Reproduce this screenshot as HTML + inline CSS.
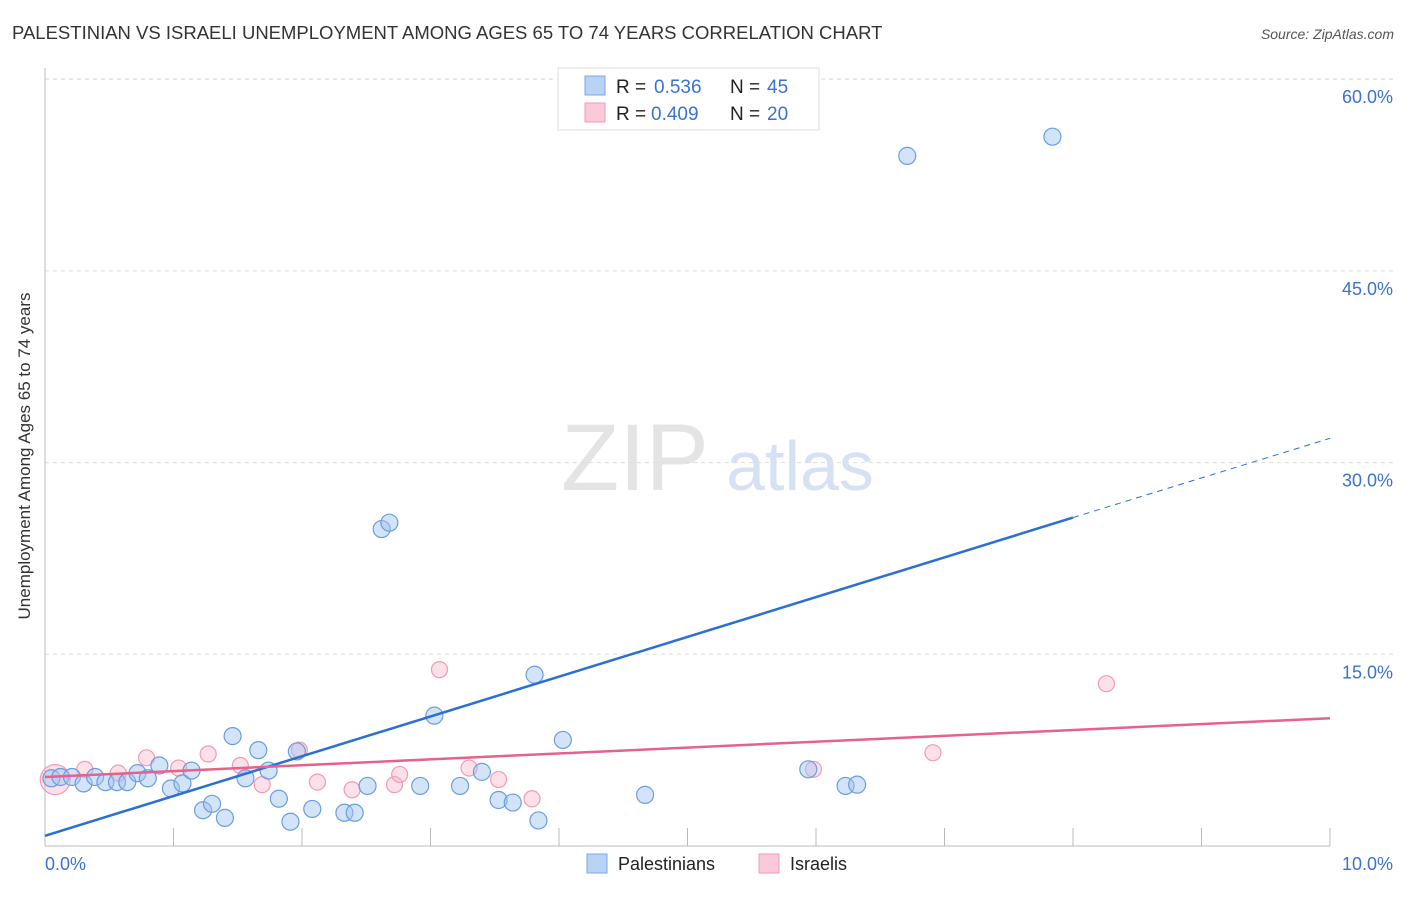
<!DOCTYPE html>
<html><head><meta charset="utf-8"><style>
body{margin:0;background:#fff;font-family:"Liberation Sans",sans-serif;}
svg text{font-family:"Liberation Sans",sans-serif;}
</style></head><body>
<svg id="c" width="1406" height="892" xmlns="http://www.w3.org/2000/svg">
<text x="12" y="39" font-size="18.5" fill="#333">PALESTINIAN VS ISRAELI UNEMPLOYMENT AMONG AGES 65 TO 74 YEARS CORRELATION CHART</text>
<text x="1394" y="39" font-size="14" fill="#555" font-style="italic" text-anchor="end">Source: ZipAtlas.com</text>
<text x="30" y="456" font-size="17" fill="#333" text-anchor="middle" transform="rotate(-90 30 456)">Unemployment Among Ages 65 to 74 years</text>
<g><text x="635" y="490" font-size="95" fill="#e4e4e4" font-family="Liberation Serif" text-anchor="middle">ZIP</text><text x="800" y="490" font-size="70" fill="#d6e2f4" text-anchor="middle">atlas</text></g>
<g id="grid"></g><g id="marks"></g>
<g>
<rect x="558" y="68" width="261" height="62" fill="#fff" stroke="#ddd"/>
<rect x="585" y="76" width="20" height="19" fill="#b8d3f5" stroke="#7aa7e6"/>
<rect x="585" y="103" width="20" height="19" fill="#fbcad8" stroke="#f29ab5"/>
<text x="616" y="93" font-size="19" fill="#222">R = </text><text x="654" y="93" font-size="19" fill="#3a72cf">0.536</text>
<text x="730" y="93" font-size="19" fill="#222">N = </text><text x="767" y="93" font-size="19" fill="#3a72cf">45</text>
<text x="616" y="120" font-size="19" fill="#222">R = </text><text x="651" y="120" font-size="19" fill="#3a72cf">0.409</text>
<text x="730" y="120" font-size="19" fill="#222">N = </text><text x="767" y="120" font-size="19" fill="#3a72cf">20</text>
</g>
<g>
<rect x="587" y="854" width="20" height="19" fill="#b8d3f5" stroke="#7aa7e6"/><text x="618" y="870" font-size="18" fill="#222">Palestinians</text>
<rect x="759" y="854" width="20" height="19" fill="#fbcad8" stroke="#f29ab5"/><text x="790" y="870" font-size="18" fill="#222">Israelis</text>
</g>
</svg>
<script>
const yTicks=[15,30,45,60];
const yTickLabels=["15.0%","30.0%","45.0%","60.0%"];
const xTicks=[0,1,2,3,4,5,6,7,8,9,10];
const bluePts=[[0.05,5.3],[0.12,5.4],[0.21,5.4],[0.3,4.9],[0.39,5.4],[0.47,5.0],[0.56,5.0],[0.64,5.0],[0.72,5.7],[0.8,5.3],[0.89,6.3],[0.98,4.5],[1.07,4.9],[1.14,5.9],[1.23,2.8],[1.3,3.3],[1.4,2.2],[1.46,8.6],[1.56,5.3],[1.66,7.5],[1.74,5.9],[1.82,3.7],[1.91,1.9],[1.96,7.4],[2.08,2.9],[2.33,2.6],[2.41,2.6],[2.51,4.7],[2.62,24.8],[2.68,25.3],[2.92,4.7],[3.03,10.2],[3.23,4.7],[3.4,5.8],[3.53,3.6],[3.64,3.4],[3.81,13.4],[3.84,2.0],[4.03,8.3],[4.67,4.0],[5.94,6.0],[6.23,4.7],[6.32,4.8],[6.71,54.0],[7.84,55.5]];
const pinkPts=[[0.08,5.2],[0.31,6.0],[0.57,5.7],[0.79,6.9],[1.04,6.1],[1.27,7.2],[1.52,6.3],[1.69,4.8],[1.98,7.5],[2.12,5.0],[2.39,4.4],[2.72,4.8],[2.76,5.6],[3.07,13.8],[3.3,6.1],[3.53,5.2],[3.79,3.7],[5.98,6.0],[6.91,7.3],[8.26,12.7]];
const blueLine=[0.8,25.7,31.9];
const pinkLine=[5.4,10.0];
const X=v=>45+v*128.5, Y=v=>846-v*12.78;
const NS="http://www.w3.org/2000/svg";
function mk(t,a,p){const e=document.createElementNS(NS,t);for(const k in a)e.setAttribute(k,a[k]);p.appendChild(e);return e;}
const g=document.getElementById('grid'),m=document.getElementById('marks');
yTicks.forEach((t,i)=>{
 const l=mk('line',{x1:45,x2:1394,y1:Y(t),y2:Y(t),stroke:'#ddd','stroke-dasharray':'4,4'},g);
 
 
 const tx=mk('text',{x:1393,y:Y(t)+24,'font-size':18,fill:'#3a72cf','text-anchor':'end'},g);tx.textContent=yTickLabels[i];
 
 
});
const topLine=mk('line',{x1:45,x2:1394,y1:79,y2:79,stroke:'#ddd','stroke-dasharray':'4,4'},g);


const ya=mk('line',{x1:45,x2:45,y1:68,y2:846,stroke:'#bbb'},g);


const xa=mk('line',{x1:45,x2:1330,y1:846,y2:846,stroke:'#bbb'},g);


xTicks.forEach(t=>{if(t>0){const l=mk('line',{x1:X(t),x2:X(t),y1:828,y2:846,stroke:'#bbb'},g);
 
 }});
const x0=mk('text',{x:45,y:870,'font-size':18,fill:'#3a72cf'},g);x0.textContent='0.0%';


const x1=mk('text',{x:1393,y:870,'font-size':18,fill:'#3a72cf','text-anchor':'end'},g);x1.textContent='10.0%';


pinkPts.forEach((p,i)=>{const c=mk('circle',{cx:X(p[0]),cy:Y(p[1]),r:i==0?15:8,fill:'rgba(248,180,200,0.4)',stroke:'#f29ab5','stroke-width':1.2},m);
 
 });
bluePts.forEach(p=>{const c=mk('circle',{cx:X(p[0]),cy:Y(p[1]),r:8.5,fill:'rgba(160,195,240,0.45)',stroke:'#6a9de0','stroke-width':1.2},m);
 
 });
const bl=mk('line',{x1:X(0),y1:Y(blueLine[0]),x2:X(8),y2:Y(blueLine[1]),stroke:'#2a6fd6','stroke-width':2.5},m);


const bd=mk('line',{x1:X(8),y1:Y(blueLine[1]),x2:X(10),y2:Y(blueLine[2]),stroke:'#2a6fd6','stroke-width':1,'stroke-dasharray':'6,5'},m);


const pl=mk('line',{x1:X(0),y1:Y(pinkLine[0]),x2:X(10),y2:Y(pinkLine[1]),stroke:'#e8608c','stroke-width':2.5},m);


</script>
</body></html>
